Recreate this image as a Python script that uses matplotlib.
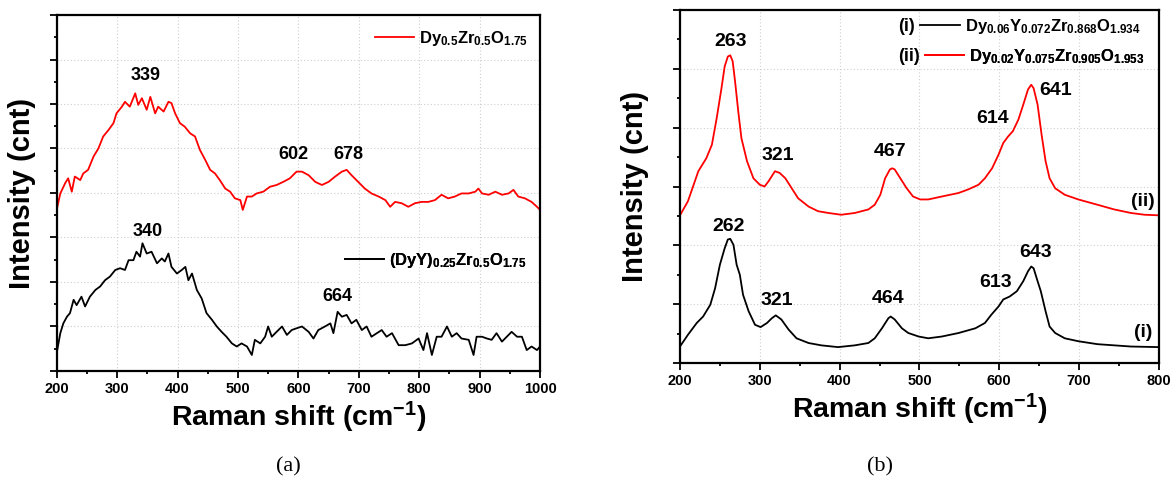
import numpy as np
import matplotlib
matplotlib.use("Agg")
import matplotlib.pyplot as plt
from matplotlib.lines import Line2D
from matplotlib.ticker import MultipleLocator, NullFormatter

plt.rcParams['font.family'] = ['Liberation Sans', 'DejaVu Sans']
plt.rcParams['font.weight'] = 'bold'
plt.rcParams['mathtext.fontset'] = 'custom'
plt.rcParams['mathtext.rm'] = 'Liberation Sans:bold'
plt.rcParams['mathtext.bf'] = 'Liberation Sans:bold'
plt.rcParams['mathtext.it'] = 'Liberation Sans:bold'
plt.rcParams['mathtext.default'] = 'rm'

# ---------------- data: panel (a) ----------------
red_a = [(200,3.62),(206,3.99),(214,4.22),(219,4.33),(225,4.03),(230,4.37),(239,4.29),(244,4.44),
         (252,4.52),(261,4.82),(269,5.00),(277,5.27),(286,5.42),(294,5.57),(299,5.79),(308,5.94),
         (313,6.05),(321,5.94),(330,6.24),(335,5.98),(341,6.13),(349,5.87),(355,6.16),(363,5.79),
         (368,5.94),(377,5.83),(385,6.05),(390,6.02),(396,5.79),(404,5.57),(412,5.49),(421,5.34),
         (429,5.27),(437,4.97),(446,4.74),(454,4.52),(462,4.44),(470,4.29),(479,4.10),(487,4.03),
         (495,3.88),(504,3.84),(508,3.62),(515,3.92),(523,3.92),(531,3.99),(542,4.03),(553,4.14),
         (564,4.18),(575,4.25),(586,4.33),(597,4.48),(606,4.48),(617,4.40),(628,4.25),(639,4.18),
         (650,4.25),(661,4.37),(672,4.48),(680,4.52),(688,4.40),(699,4.25),(710,4.10),(721,3.99),
         (733,3.92),(744,3.84),(752,3.69),(760,3.80),(771,3.77),(782,3.69),(793,3.77),(804,3.80),
         (815,3.80),(826,3.84),(837,3.96),(848,3.88),(859,3.92),(870,3.99),(882,3.99),(893,4.03),
         (898,4.10),(904,3.99),(915,3.96),(926,4.03),(937,3.96),(948,3.99),(956,4.07),(964,3.92),
         (975,3.88),(986,3.80),(995,3.69),(1000,3.62)]
black_a = [(200,0.40),(206,0.85),(211,1.07),(217,1.22),(222,1.30),(228,1.60),(233,1.48),(241,1.67),
           (247,1.45),(255,1.67),(264,1.82),(272,1.90),(280,2.04),(288,2.12),(297,2.27),(305,2.31),
           (313,2.27),(319,2.49),(327,2.49),(332,2.68),(338,2.57),(342,2.87),(349,2.64),(357,2.68),
           (366,2.42),(374,2.53),(379,2.46),(385,2.64),(390,2.34),(399,2.19),(407,2.27),(413,2.34),
           (418,2.04),(424,2.19),(432,1.82),(440,1.63),(448,1.30),(457,1.15),(465,1.00),(473,0.88),
           (481,0.77),(490,0.62),(498,0.55),(506,0.62),(515,0.55),(523,0.36),(528,0.70),(537,0.62),
           (545,0.77),(550,1.00),(556,0.77),(564,0.88),(573,1.00),(581,0.81),(589,0.92),(595,0.95),
           (606,1.00),(617,0.88),(625,0.73),(633,0.92),(644,1.00),(653,1.07),(658,0.85),(665,1.33),
           (672,1.22),(680,1.26),(688,1.07),(696,1.15),(705,0.92),(713,1.00),(721,0.77),(730,0.85),
           (738,0.92),(746,0.77),(755,0.85),(766,0.58),(777,0.58),(788,0.62),(799,0.73),(807,0.47),
           (813,0.85),(821,0.36),(829,0.77),(837,0.77),(846,1.00),(854,0.77),(862,0.85),(870,0.73),
           (882,0.70),(890,0.36),(895,0.77),(904,0.77),(912,0.73),(920,0.70),(928,0.85),(937,0.66),
           (945,0.77),(953,0.88),(962,0.77),(970,0.77),(978,0.47),(986,0.55),(995,0.47),(1000,0.55)]
peaks_a = [("339", 347, 6.63), ("602", 592, 4.87), ("678", 683, 4.87),
           ("340", 351, 3.13), ("664", 665, 1.67)]
label_red_a = r"$\mathrm{Dy_{0.5}Zr_{0.5}O_{1.75}}$"
label_black_a = r"$\mathrm{(DyY)_{0.25}Zr_{0.5}O_{1.75}}$"

# ---------------- data: panel (b) ----------------
red_b = [(200,2.51),(210,2.75),(223,3.26),(233,3.48),(240,3.71),(246,4.16),(252,4.67),(256,5.04),
         (260,5.21),(263,5.23),(266,5.13),(269,4.79),(273,4.28),(277,3.82),(284,3.43),(292,3.14),
         (300,3.03),(306,3.00),(311,3.09),(319,3.26),(325,3.23),(332,3.14),(340,2.97),(348,2.80),
         (361,2.66),(373,2.58),(386,2.55),(402,2.52),(419,2.55),(436,2.61),(444,2.69),(451,2.86),
         (457,3.14),(463,3.29),(466,3.31),(469,3.29),(476,3.14),(484,2.97),(492,2.83),(501,2.78),
         (511,2.78),(528,2.83),(549,2.89),(561,2.95),(574,3.03),(582,3.14),(591,3.31),(599,3.54),
         (605,3.74),(611,3.85),(617,3.94),(624,4.14),(630,4.39),(636,4.65),(640,4.73),(643,4.67),
         (648,4.39),(653,3.88),(658,3.43),(663,3.14),(670,2.97),(682,2.86),(699,2.78),(723,2.69),
         (744,2.61),(765,2.55),(782,2.52),(800,2.51)]
black_b = [(200,0.28),(210,0.48),(221,0.68),(229,0.79),(238,0.99),(244,1.27),(250,1.67),(256,1.95),
           (260,2.10),(263,2.11),(267,2.01),(271,1.67),(275,1.50),(279,1.16),(286,0.88),(294,0.65),
           (301,0.61),(309,0.68),(315,0.76),(320,0.81),(327,0.74),(336,0.57),(346,0.42),(361,0.34),
           (377,0.30),(398,0.27),(419,0.30),(436,0.34),(444,0.42),(453,0.59),(461,0.76),(464,0.79),
           (469,0.74),(478,0.59),(486,0.51),(499,0.45),(511,0.42),(528,0.45),(549,0.51),(570,0.59),
           (582,0.68),(590,0.82),(599,0.96),(605,1.08),(613,1.13),(622,1.22),(630,1.39),(636,1.56),
           (640,1.64),(643,1.61),(648,1.39),(652,1.22),(658,0.88),(663,0.62),(670,0.51),(682,0.42),
           (699,0.37),(723,0.32),(744,0.30),(765,0.28),(800,0.27)]
peaks_b = [("263", 263, 5.47), ("321", 322, 3.53), ("467", 463, 3.60), ("614", 592, 4.16),
           ("641", 670, 4.63), ("262", 261, 2.32), ("321", 321, 1.06), ("464", 461, 1.10),
           ("613", 595, 1.36), ("643", 645, 1.87)]
curve_tags_b = [("(ii)", 780, 2.75), ("(i)", 780, 0.51)]
label_black_b = r"$\mathrm{Dy_{0.06}Y_{0.072}Zr_{0.868}O_{1.934}}$"
label_red_b = r"$\mathrm{Dy_{0.02}Y_{0.075}Zr_{0.905}O_{1.953}}$"

RED = '#ff0000'
BLACK = '#000000'

fig = plt.figure(figsize=(11.76, 4.84), dpi=100)
fig.patch.set_facecolor('white')
ax1 = fig.add_axes([0.0482, 0.2335, 0.411, 0.7355])
ax2 = fig.add_axes([0.5782, 0.2500, 0.4073, 0.7293])


def style(ax, xlim, ylim, xmaj, ymaj, ylabelpad):
    ax.set_xlim(*xlim)
    ax.set_ylim(*ylim)
    ax.xaxis.set_major_locator(MultipleLocator(xmaj))
    ax.xaxis.set_minor_locator(MultipleLocator(xmaj / 2))
    ax.yaxis.set_major_locator(MultipleLocator(ymaj))
    ax.yaxis.set_minor_locator(MultipleLocator(ymaj / 2))
    ax.yaxis.set_major_formatter(NullFormatter())
    ax.tick_params(which='major', direction='out', length=5, width=1.3, labelsize=10.5, pad=3)
    ax.tick_params(which='minor', direction='out', length=2.5, width=1.3)
    for lab in ax.get_xticklabels():
        lab.set_fontweight('bold')
    for sp in ax.spines.values():
        sp.set_linewidth(1.6)
        sp.set_color('black')
    ax.grid(True, which='major', linestyle=(0, (1, 2)), color='#cfcfcf', linewidth=0.8)
    ax.set_axisbelow(True)
    ax.set_xlabel(r"Raman shift (cm$^{\mathbf{-1}}$)", fontsize=20.5, fontweight='bold', labelpad=3)
    ax.set_ylabel("Intensity (cnt)", fontsize=21, fontweight='bold', labelpad=ylabelpad)


def add_leg(ax, color, label, x, y, hl):
    h = Line2D([], [], color=color, lw=1.3)
    leg = ax.legend([h], [label], loc='center left', bbox_to_anchor=(x, y), frameon=False,
                    borderpad=0, borderaxespad=0, handlelength=hl, handletextpad=0.3,
                    fontsize=12)
    ax.add_artist(leg)


# ---- panel (a)
style(ax1, (200, 1000), (0, 8), 100, 1, 7)
ra = np.array(red_a)
ba = np.array(black_a)
ax1.plot(ra[:, 0], ra[:, 1], color=RED, lw=1.3)
ax1.plot(ba[:, 0], ba[:, 1], color=BLACK, lw=1.3)
for t, x, y in peaks_a:
    ax1.text(x, y, t, fontsize=13, fontweight='bold', ha='center', va='center')
add_leg(ax1, RED, label_red_a, 0.659, 0.935, 2.3)
add_leg(ax1, BLACK, label_black_a, 0.597, 0.31, 2.3)

# ---- panel (b)
style(ax2, (200, 800), (0, 6), 100, 1, 14)
rb = np.array(red_b)
bb = np.array(black_b)
ax2.plot(rb[:, 0], rb[:, 1], color=RED, lw=1.3)
ax2.plot(bb[:, 0], bb[:, 1], color=BLACK, lw=1.3)
for t, x, y in peaks_b:
    ax2.text(x, y, t, fontsize=14, fontweight='bold', ha='center', va='center')
for t, x, y in curve_tags_b:
    ax2.text(x, y, t, fontsize=14, fontweight='bold', ha='center', va='center')
add_leg(ax2, BLACK, label_black_b, 0.501, 0.953, 2.4)
add_leg(ax2, RED, label_red_b, 0.511, 0.868, 2.35)
ax2.text(0.490, 0.953, "(i)", transform=ax2.transAxes, fontsize=13, fontweight='bold',
         ha='right', va='center')
ax2.text(0.500, 0.868, "(ii)", transform=ax2.transAxes, fontsize=13, fontweight='bold',
         ha='right', va='center')

fig.text(0.245, 0.036, "(a)", family='Liberation Serif', fontweight='normal', fontsize=16,
         ha='center', va='center')
fig.text(0.748, 0.036, "(b)", family='Liberation Serif', fontweight='normal', fontsize=16,
         ha='center', va='center')

fig.savefig("out.png", dpi=100, facecolor='white')
